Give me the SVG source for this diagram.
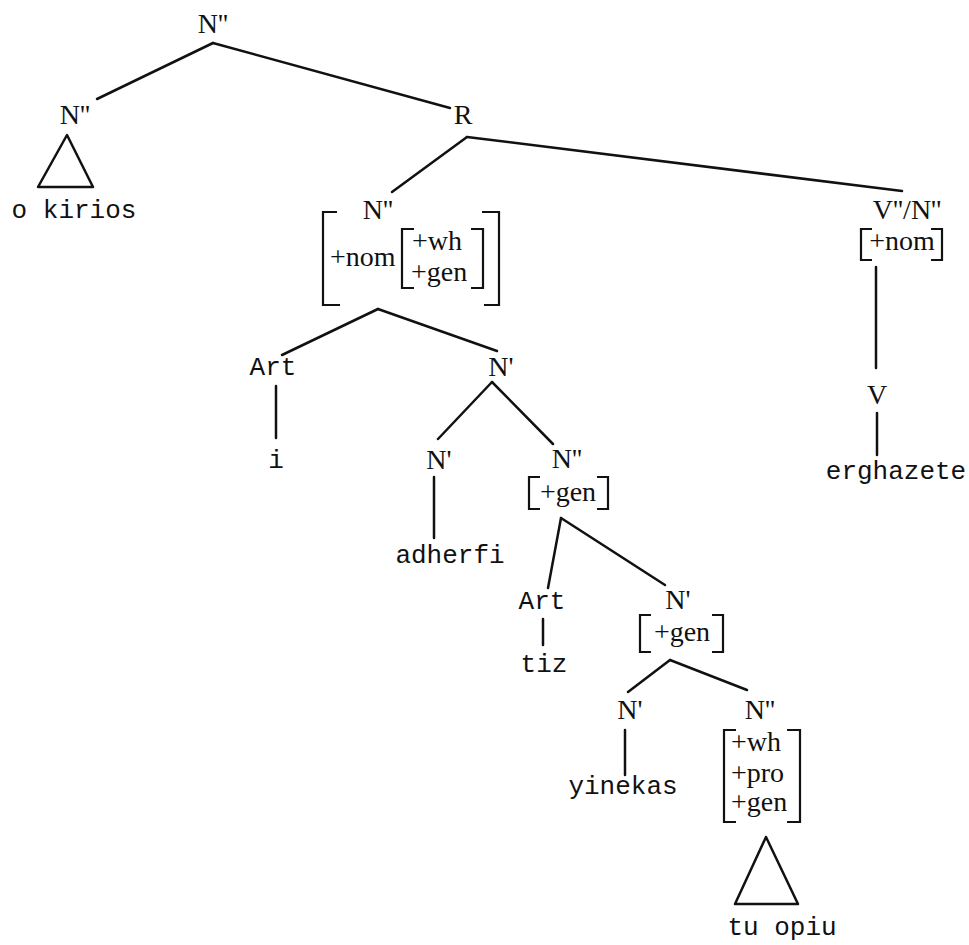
<svg xmlns="http://www.w3.org/2000/svg" width="969" height="945" viewBox="0 0 969 945">
<style>
.l{font-family:"Liberation Serif",serif;font-size:28px;fill:#111;text-anchor:middle}
.m{font-family:"Liberation Mono",monospace;font-size:26px;fill:#111;text-anchor:middle}
.f{font-family:"Liberation Serif",serif;font-size:28px;fill:#111}
.c{text-anchor:middle}
.e{fill:none;stroke:#111;stroke-width:2.5;stroke-linecap:round;stroke-linejoin:round}
.b{fill:none;stroke:#111;stroke-width:2.2}
</style>
<rect width="969" height="945" fill="#fff"/>
<g id="connectors" class="e">
<line x1="213" y1="43" x2="97" y2="99"/>
<line x1="213" y1="43" x2="450" y2="108"/>
<polygon points="67,135 38,187 93,187"/>
<line x1="467" y1="137" x2="392" y2="192"/>
<line x1="467" y1="137" x2="902" y2="191"/>
<line x1="378" y1="309" x2="282" y2="355"/>
<line x1="378" y1="309" x2="497" y2="351"/>
<line x1="276" y1="386" x2="276" y2="438"/>
<line x1="492" y1="382" x2="438" y2="439"/>
<line x1="492" y1="382" x2="553" y2="444"/>
<line x1="434" y1="477" x2="434" y2="538"/>
<line x1="561" y1="518" x2="548" y2="588"/>
<line x1="561" y1="518" x2="665" y2="585"/>
<line x1="543" y1="619" x2="543" y2="645"/>
<line x1="670" y1="660" x2="628" y2="692"/>
<line x1="670" y1="660" x2="747" y2="690"/>
<line x1="625" y1="730" x2="625" y2="775"/>
<polygon points="766,837 735,904 798,904"/>
<line x1="876" y1="267" x2="876" y2="368"/>
<line x1="877" y1="413" x2="877" y2="455"/>
</g>
<g id="n-root"><text class="l" x="213" y="33">N''</text></g>
<g id="n-subj"><text class="l" x="75" y="124">N''</text></g>
<g id="w-okirios"><text class="m" x="74" y="218">o kirios</text></g>
<g id="n-R"><text class="l" x="463" y="124">R</text></g>
<g id="n-rel">
<text class="l" x="378" y="219">N''</text>
<path class="b" d="M337,212 L323,212 L323,305 L340,305"/>
<path class="b" d="M482,212 L499,212 L499,305 L484,305"/>
<text class="f" x="330" y="266">+nom</text>
<path class="b" d="M414,229 L402,229 L402,288 L414,288"/>
<path class="b" d="M471,229 L483,229 L483,288 L471,288"/>
<text class="f" x="412" y="250">+wh</text>
<text class="f" x="411" y="281">+gen</text>
</g>
<g id="n-art1"><text class="m" x="273" y="375">Art</text></g>
<g id="w-i"><text class="m" x="276" y="468">i</text></g>
<g id="n-nbar1"><text class="l" x="501" y="376">N'</text></g>
<g id="n-nbar2"><text class="l" x="439" y="469">N'</text></g>
<g id="w-adherfi"><text class="m" x="450" y="563">adherfi</text></g>
<g id="n-gen1">
<text class="l" x="567" y="468">N''</text>
<path class="b" d="M540,477 L529,477 L529,509 L540,509"/>
<path class="b" d="M597,477 L608,477 L608,509 L597,509"/>
<text class="f c" x="568" y="501">+gen</text>
</g>
<g id="n-art2"><text class="m" x="542" y="609">Art</text></g>
<g id="w-tiz"><text class="m" x="544" y="672">tiz</text></g>
<g id="n-nbar3">
<text class="l" x="678" y="609">N'</text>
<path class="b" d="M651,615 L640,615 L640,652 L651,652"/>
<path class="b" d="M712,615 L723,615 L723,652 L712,652"/>
<text class="f c" x="682" y="641">+gen</text>
</g>
<g id="n-nbar4"><text class="l" x="630" y="719">N'</text></g>
<g id="w-yinekas"><text class="m" x="623" y="794">yinekas</text></g>
<g id="n-whpro">
<text class="l" x="760" y="719">N''</text>
<path class="b" d="M736,730 L724,730 L724,822 L736,822"/>
<path class="b" d="M787,730 L800,730 L800,822 L787,822"/>
<text class="f" x="731" y="751">+wh</text>
<text class="f" x="731" y="782">+pro</text>
<text class="f" x="731" y="811">+gen</text>
</g>
<g id="w-tuopiu"><text class="m" x="782" y="935">tu opiu</text></g>
<g id="n-vn">
<text class="l" x="907" y="219">V''/N''</text>
<path class="b" d="M872,229 L861,229 L861,260 L872,260"/>
<path class="b" d="M931,229 L942,229 L942,260 L931,260"/>
<text class="f c" x="902" y="250">+nom</text>
</g>
<g id="n-V"><text class="l" x="877" y="404">V</text></g>
<g id="w-erghazete"><text class="m" x="896" y="479">erghazete</text></g>
</svg>
